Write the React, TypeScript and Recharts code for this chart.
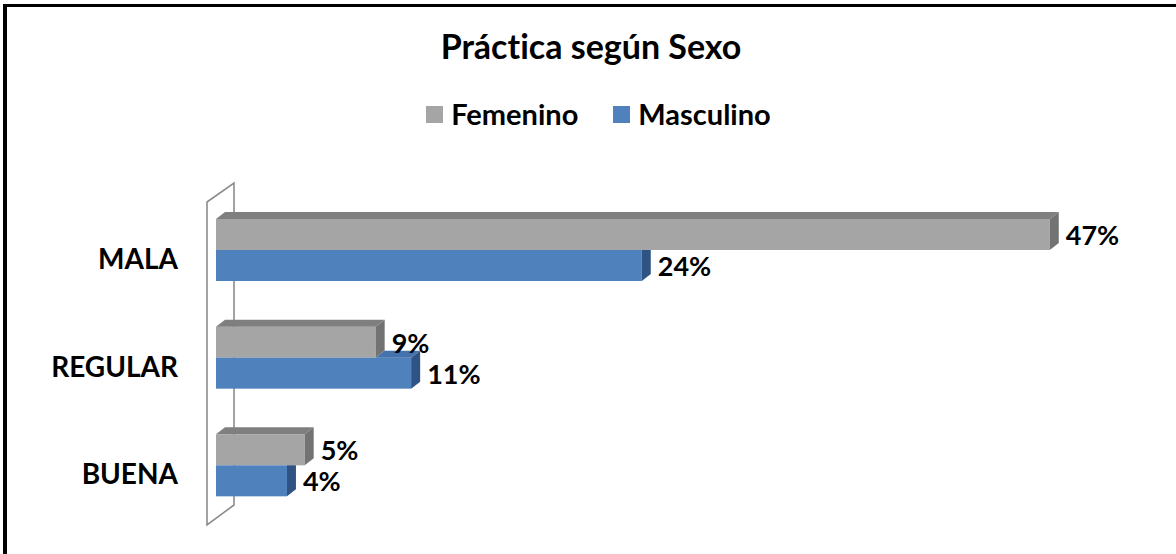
import React from 'react';
import { BarChart, Bar, XAxis, YAxis, Legend, LabelList, CartesianGrid } from 'recharts';

const categories = ['MALA', 'REGULAR', 'BUENA'];
const femenino = [47, 9, 5];
const masculino = [24, 11, 4];
const seriesNames = ['Femenino', 'Masculino'];
const chartTitle = 'Práctica según Sexo';

const data = categories.map((c, i) => ({ cat: c, fem: femenino[i], masc: masculino[i] }));

const FONT = 'Lato, "Open Sans", sans-serif';
const DX = 9;
const DY = 7;

const FEM = { front: '#A5A5A5', top: '#7F7F7F', side: '#737373' };
const MASC = { front: '#4F81BD', top: '#4372AC', side: '#2F5382' };

const pts = (a: number[][]) => a.map((p) => p.join(',')).join(' ');

const FemShape = (props: any) => {
  const { x, y, width, height } = props;
  if (width == null || width <= 0) return null;
  return (
    <g>
      <rect x={x} y={y} width={width} height={height} fill={FEM.front} />
      <polygon points={pts([[x, y], [x + DX, y - DY], [x + width + DX, y - DY], [x + width, y]])} fill={FEM.top} />
      <polygon points={pts([[x + width, y], [x + width + DX, y - DY], [x + width + DX, y + height - DY], [x + width, y + height]])} fill={FEM.side} />
    </g>
  );
};

const MascShape = (props: any) => {
  const { x, y, width, height, payload } = props;
  if (width == null || width <= 0) return null;
  const femW = payload && payload.masc ? (width * payload.fem) / payload.masc : 0;
  const topStart = Math.max(x, x + femW);
  return (
    <g>
      <rect x={x} y={y} width={width} height={height} fill={MASC.front} />
      {femW < width && (
        <polygon points={pts([[topStart, y], [topStart + DX, y - DY], [x + width + DX, y - DY], [x + width, y]])} fill={MASC.top} />
      )}
      {femW < width ? (
        <polygon points={pts([[x + width, y], [x + width + DX, y - DY], [x + width + DX, y + height - DY], [x + width, y + height]])} fill={MASC.side} />
      ) : (
        <polygon points={pts([[x + width, y], [x + width + DX, y], [x + width + DX, y + height - DY], [x + width, y + height]])} fill={MASC.side} />
      )}
    </g>
  );
};

const WallLine = (props: any) => {
  const { x1, y1, y2 } = props;
  if (x1 == null) return null;
  const top = Math.min(y1, y2);
  const bottom = Math.max(y1, y2);
  const lx = x1 - 9;
  const rx = x1 + 18;
  return (
    <polygon
      key={`wall-${x1}`}
      points={pts([[lx, top + 6], [rx, top - 13], [rx, bottom - 14], [lx, bottom + 6]])}
      fill="none"
      stroke="#8C8C8C"
      strokeWidth={1.6}
    />
  );
};

const CatTick = (props: any) => {
  const { x, y, payload } = props;
  return (
    <text x={x} y={y + 8} textAnchor="end" dominantBaseline="central" fontFamily={FONT} fontWeight={700} fontSize={28} fill="#000">
      {payload.value}
    </text>
  );
};

const ValueLabel = (props: any) => {
  const { x, y, width, height, value } = props;
  return (
    <text x={x + width + DX + 7} y={y + height / 2} dominantBaseline="central" fontFamily={FONT} fontWeight={700} fontSize={27} fill="#000">
      {`${value}%`}
    </text>
  );
};

const LegendContent = (props: any) => {
  const payload = props.payload || [];
  return (
    <div style={{ display: 'flex', justifyContent: 'center', alignItems: 'center', gap: 35, fontFamily: FONT, fontWeight: 700, fontSize: 29, lineHeight: 1.2, paddingLeft: 21 }}>
      {payload.map((p: any) => (
        <div key={p.value} style={{ display: 'flex', alignItems: 'center', gap: 8 }}>
          <span style={{ display: 'inline-block', width: 17, height: 17, background: p.color }} />
          <span style={{ color: '#000' }}>{p.value}</span>
        </div>
      ))}
    </div>
  );
};

export default function App() {
  return (
    <div style={{ position: 'fixed', left: 0, top: 0, width: 1176, height: 554, background: '#fff', overflow: 'hidden' }}>
      <div style={{ position: 'absolute', left: 3, top: 4, width: 1300, height: 700, borderTop: '3px solid #000', borderLeft: '4px solid #000', boxSizing: 'border-box' }} />
      <div style={{ position: 'absolute', left: 0, top: 26, width: 1182, textAlign: 'center', fontFamily: FONT, fontWeight: 700, fontSize: 34, lineHeight: 1.2, color: '#000', fontVariantLigatures: 'none' }}>
        {chartTitle}
      </div>
      <div style={{ position: 'absolute', left: 0, top: 0 }}>
        <BarChart
          width={1176}
          height={554}
          data={data}
          layout="vertical"
          margin={{ top: 196, right: 73, bottom: 35, left: 16 }}
          barSize={31}
          barGap={0}
        >
          <CartesianGrid
            horizontal={false}
            vertical={WallLine}
            verticalCoordinatesGenerator={(args: any) => [args.offset.left]}
          />
          <XAxis type="number" domain={[0, 50]} hide />
          <YAxis type="category" dataKey="cat" width={200} axisLine={false} tickLine={false} tickSize={0} tickMargin={38} tick={<CatTick />} />
          <Legend verticalAlign="middle" align="center" layout="horizontal" wrapperStyle={{ top: 97, left: 0, width: 1176 }} content={<LegendContent />} />
          <Bar dataKey="fem" name={seriesNames[0]} fill={FEM.front} shape={<FemShape />} isAnimationActive={false}>
            <LabelList dataKey="fem" content={<ValueLabel />} />
          </Bar>
          <Bar dataKey="masc" name={seriesNames[1]} fill={MASC.front} shape={<MascShape />} isAnimationActive={false}>
            <LabelList dataKey="masc" content={<ValueLabel />} />
          </Bar>
        </BarChart>
      </div>
    </div>
  );
}
